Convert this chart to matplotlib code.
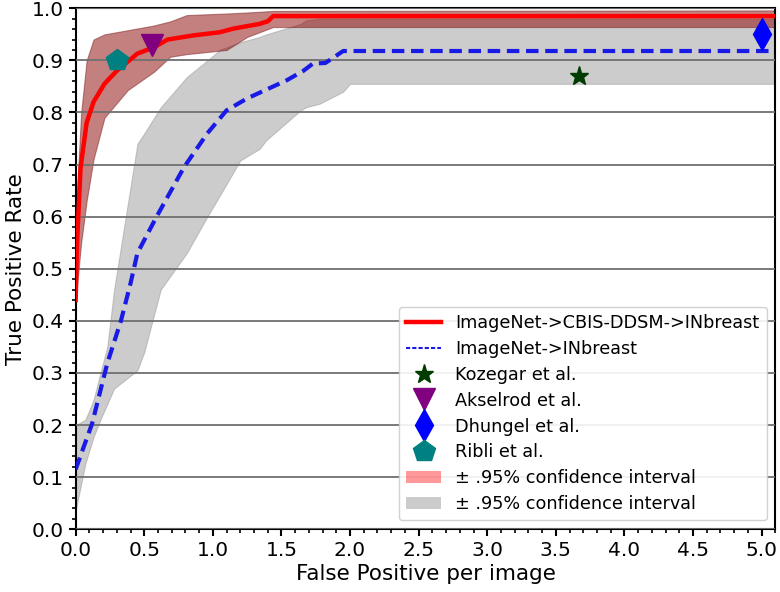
import matplotlib
matplotlib.use("Agg")
import matplotlib.pyplot as plt
from matplotlib.lines import Line2D
from matplotlib.patches import Patch
from matplotlib.ticker import MultipleLocator

# Red curve: ImageNet->CBIS-DDSM->INbreast
red_x = [0.0, 0.01, 0.036, 0.08, 0.13, 0.21, 0.30, 0.45, 0.57, 0.67, 0.86, 1.05, 1.15, 1.34, 1.40, 1.44, 5.1]
red_y = [0.44, 0.55, 0.695, 0.78, 0.82, 0.855, 0.88, 0.913, 0.925, 0.94, 0.948, 0.954, 0.961, 0.97, 0.975, 0.985, 0.985]

red_band_x = [0.0, 0.04, 0.08, 0.13, 0.21, 0.38, 0.57, 0.69, 0.81, 1.1, 1.25, 1.44, 5.1]
red_lo = [0.44, 0.55, 0.63, 0.71, 0.79, 0.843, 0.878, 0.907, 0.912, 0.92, 0.945, 0.964, 0.964]
red_hi = [0.60, 0.80, 0.90, 0.94, 0.95, 0.958, 0.967, 0.975, 0.987, 0.99, 0.992, 0.995, 0.996]

# Blue curve: ImageNet->INbreast
blue_x = [0.0, 0.12, 0.23, 0.33, 0.40, 0.45, 0.59, 0.79, 0.96, 1.10, 1.25, 1.54, 1.66, 1.73, 1.82, 1.95, 5.1]
blue_y = [0.115, 0.203, 0.318, 0.40, 0.472, 0.53, 0.60, 0.695, 0.76, 0.804, 0.827, 0.862, 0.88, 0.894, 0.895, 0.918, 0.918]

gray_x = [0.0, 0.07, 0.13, 0.18, 0.23, 0.28, 0.45, 0.50, 0.62, 0.81, 0.96, 1.05, 1.2, 1.34, 1.39, 1.64, 1.68, 1.78, 1.95, 2.0, 5.1]
gray_lo = [0.036, 0.125, 0.177, 0.21, 0.24, 0.27, 0.305, 0.34, 0.46, 0.53, 0.60, 0.64, 0.708, 0.73, 0.747, 0.804, 0.81, 0.817, 0.84, 0.855, 0.855]
gray_hi = [0.20, 0.21, 0.248, 0.30, 0.35, 0.46, 0.74, 0.76, 0.81, 0.868, 0.90, 0.92, 0.935, 0.945, 0.95, 0.97, 0.977, 0.98, 0.98, 0.98, 0.98]

# Published results
kozegar = (3.67, 0.87)
akselrod = (0.56, 0.93)
dhungel = (5.0, 0.95)
ribli = (0.30, 0.90)

fig = plt.figure(figsize=(7.8, 5.92), dpi=100)
ax = fig.add_axes([0.097, 0.106, 0.897, 0.880])

ax.fill_between(gray_x, gray_lo, gray_hi, facecolor='gray', alpha=0.4, edgecolor='#888888', linewidth=0.8, zorder=1)
ax.fill_between(red_band_x, red_lo, red_hi, facecolor='darkred', alpha=0.5, edgecolor='#7a2020', linewidth=0.8, zorder=1.1)

ax.plot(red_x, red_y, color='red', lw=3.2, zorder=3)
ax.plot(blue_x, blue_y, color='#1a1ae6', lw=3.0, ls=(0, (3, 1.6)), zorder=3)

ax.plot(*kozegar, marker='*', color='#003c00', ms=14, ls='none', zorder=4)
ax.plot(*akselrod, marker='v', color='purple', ms=16, ls='none', zorder=4)
ax.plot(*dhungel, marker='d', color='blue', ms=16, ls='none', zorder=4)
ax.plot(*ribli, marker='p', color='teal', ms=16, ls='none', zorder=4)

ax.set_xlim(0, 5.1)
ax.set_ylim(0, 1.0)
ax.xaxis.set_major_locator(MultipleLocator(0.5))
ax.xaxis.set_minor_locator(MultipleLocator(0.1))
ax.yaxis.set_major_locator(MultipleLocator(0.1))
ax.yaxis.set_minor_locator(MultipleLocator(0.02))
ax.yaxis.grid(True, color='#707070', lw=1.3, zorder=2)
ax.set_axisbelow(False)
for s in ax.spines.values():
    s.set_linewidth(1.5)
ax.tick_params(axis='both', which='major', labelsize=14.5, length=5, width=1.5)
ax.tick_params(axis='both', which='minor', length=3, width=1.2)
ax.set_xlabel('False Positive per image', fontsize=15.5, labelpad=3)
ax.set_ylabel('True Positive Rate', fontsize=15.5, labelpad=4)

handles = [
    Line2D([], [], color='red', lw=3.2),
    Line2D([], [], color='#1a1ae6', lw=1.5, ls=(0, (2, 1))),
    Line2D([], [], marker='*', color='#003c00', ms=14, ls='none'),
    Line2D([], [], marker='v', color='purple', ms=16, ls='none'),
    Line2D([], [], marker='d', color='blue', ms=16, ls='none'),
    Line2D([], [], marker='p', color='teal', ms=16, ls='none'),
    Patch(facecolor='red', alpha=0.4),
    Patch(facecolor='gray', alpha=0.4),
]
labels = ['ImageNet->CBIS-DDSM->INbreast', 'ImageNet->INbreast', 'Kozegar et al.',
          'Akselrod et al.', 'Dhungel et al.', 'Ribli et al.',
          '± .95% confidence interval', '± .95% confidence interval']
leg = ax.legend(handles, labels, loc='lower right', fontsize=12.7, framealpha=0.9,
                handlelength=2.0, labelspacing=0.45, borderaxespad=0.5)
leg.set_zorder(5)

fig.savefig('out.png', dpi=100)
